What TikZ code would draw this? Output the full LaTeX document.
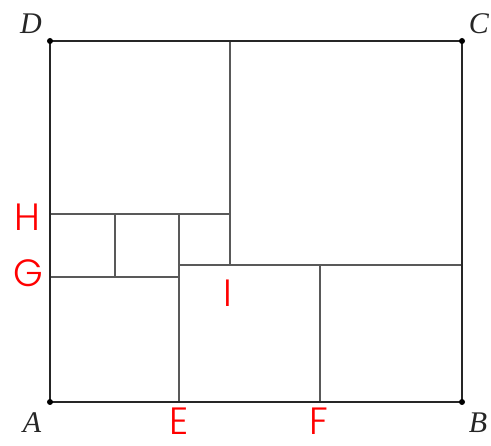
\documentclass[tikz,border=0pt]{standalone}
\usepackage{fontspec}
\setmainfont{Liberation Serif}
\newfontfamily\redfont{Poppins Light}
\begin{document}
\begin{tikzpicture}[x=1pt,y=-1pt,
  outer/.style={line width=1.8pt,draw=black!85},
  inner/.style={line width=1.2pt,draw=black!65},
  corner/.style={font=\itshape\fontsize{30}{30}\selectfont,inner sep=0pt,text=black!85},
  redlab/.style={font=\redfont\fontsize{38}{38}\selectfont,inner sep=0pt,text=red},
  dot/.style={circle,fill=black,inner sep=0pt,minimum size=6pt}]
\useasboundingbox (0,0) rectangle (491,446);
% corners
\coordinate (A) at (50,402);
\coordinate (B) at (462,402);
\coordinate (C) at (462,41);
\coordinate (D) at (50,41);
% points
\coordinate (H) at (50,214);
\coordinate (G) at (50,277);
\coordinate (E) at (179,402);
\coordinate (F) at (320,402);
\coordinate (Htop) at (230,41);
\coordinate (Hr) at (230,214);
\coordinate (I) at (230,265);
\coordinate (Ileft) at (179,265);
\coordinate (Iright) at (462,265);
\coordinate (Fup) at (320,265);
\coordinate (Gr) at (179,277);
\coordinate (Ht) at (179,214);
\coordinate (M1) at (115,214);
\coordinate (M2) at (115,277);
% inner lines
\draw[inner] (Htop) -- (I);
\draw[inner] (H) -- (Hr);
\draw[inner] (Ileft) -- (Iright);
\draw[inner] (G) -- (Gr);
\draw[inner] (M1) -- (M2);
\draw[inner] (Ht) -- (E);
\draw[inner] (Fup) -- (F);
% outer rectangle
\draw[outer] (A) -- (B) -- (C) -- (D) -- cycle;
\node[dot] at (A) {};
\node[dot] at (B) {};
\node[dot] at (C) {};
\node[dot] at (D) {};
% labels
\node[corner] (lD) at (31,24) {D};
\node[corner] (lC) at (479,24) {C};
\node[corner] (lA) at (32,423) {A};
\node[corner] (lB) at (478,423) {B};
\node[redlab] (lH) at (27,217) {H};
\node[redlab] (lG) at (28,273) {G};
\node[redlab] (lI) at (228,293) {I};
\node[redlab] (lE) at (179,421) {E};
\node[redlab] (lF) at (319,421) {F};
\end{tikzpicture}
\end{document}
